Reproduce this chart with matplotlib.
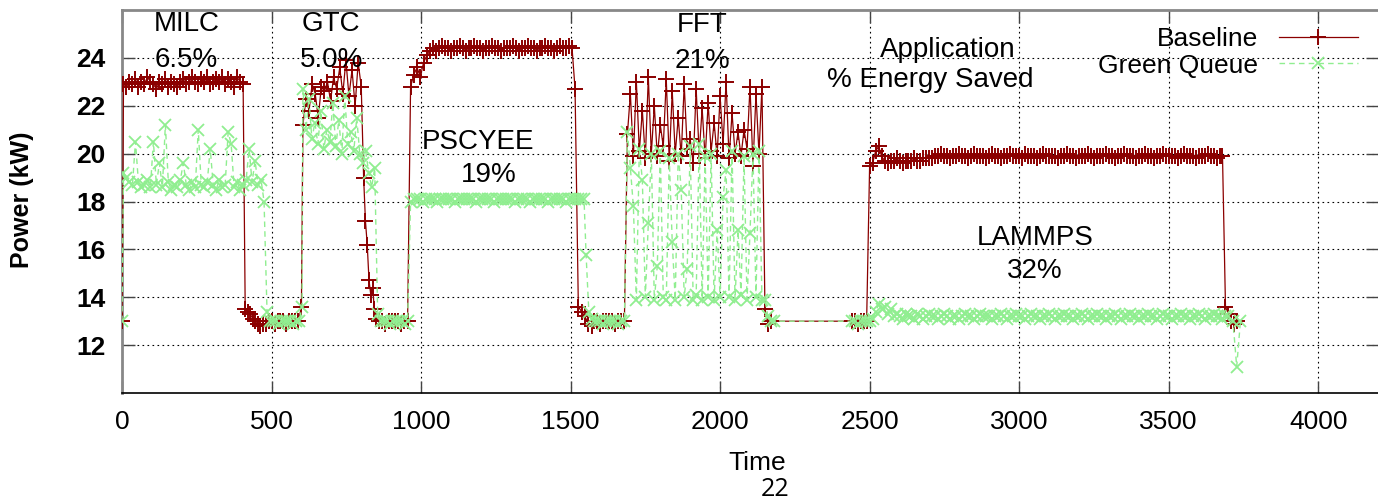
import matplotlib
matplotlib.use('Agg')
import matplotlib.pyplot as plt
import numpy as np

plt.rcParams['font.family'] = ['Liberation Sans', 'DejaVu Sans']

# ---- Baseline power (kW), phases as (start time, end time, samples) ----
b_idle0 = [13.0]
b_milc = [22.9, 22.8, 23.0, 22.9, 23.1, 22.8, 23.0, 22.9, 23.2, 23.0,
          22.9, 22.7, 23.0, 22.9, 23.1, 22.8, 23.0, 22.9, 22.8, 23.0,
          23.1, 22.9, 23.0, 23.2, 23.0, 22.9, 23.1, 23.0, 23.2, 22.9,
          23.0, 23.1, 23.0, 23.2, 22.9, 23.1, 23.0, 22.8, 23.2, 23.0, 22.9]
b_drop1 = [13.5, 13.4, 13.3, 13.1, 13.0, 12.9, 12.8, 12.9, 12.9]
b_idle1 = [13.0, 13.0, 12.9, 13.0, 13.0, 13.0, 12.9, 13.0, 13.0, 13.0, 13.0, 13.6]
b_gtc = [21.2, 22.3, 21.8, 22.9, 22.5, 21.5, 22.8, 22.6, 23.0, 22.2,
         23.2, 22.7, 23.6, 22.5, 23.9, 22.4, 23.5, 22.0, 23.8, 22.8]
b_drop2 = [19.0, 17.2, 16.2, 14.7, 14.1, 14.4, 13.5, 13.1]
b_idle2 = [13.0, 13.0, 12.9, 13.0, 13.0, 13.0, 13.0, 12.9, 13.0, 13.0]
b_psc_ramp = [22.8, 23.3, 23.6, 23.2, 23.8, 24.1, 24.3]
b_pscyee = [24.4, 24.3, 24.4, 24.5, 24.4, 24.4, 24.3, 24.4, 24.4, 24.5,
            24.4, 24.3, 24.4, 24.4, 24.5, 24.4, 24.4, 24.3, 24.4, 24.4,
            24.5, 24.4, 24.4, 24.3, 24.4, 24.4, 24.4, 24.5, 24.4, 24.3,
            24.4, 24.4, 24.5, 24.4, 24.4, 24.3, 24.4, 24.4, 24.5, 24.4,
            24.4, 24.3, 24.4, 24.5, 24.4, 24.4, 24.5, 24.4]
b_drop3 = [22.7, 13.6, 13.4, 13.2, 12.9, 12.8]
b_idle3 = [13.0, 13.0, 12.9, 13.0, 13.0, 13.0, 13.0, 12.9, 13.0, 13.0, 13.0]
b_fft = [20.8, 22.5, 19.9, 23.0, 20.1, 21.8, 19.8, 23.2, 20.0, 22.0,
         19.9, 21.2, 20.3, 23.1, 19.7, 22.6, 20.0, 21.5, 19.9, 22.9,
         20.2, 20.6, 19.6, 22.7, 20.0, 21.9, 19.8, 22.1, 20.1, 21.3,
         19.9, 22.4, 20.4, 23.0, 19.8, 21.7, 20.0, 20.9, 19.9, 21.0,
         20.2, 22.8, 19.5, 22.5, 20.0, 22.8]
b_drop4 = [13.5, 12.9, 13.0]
b_idle4 = [13.0, 13.0, 12.9, 13.0, 13.0, 13.0]
b_lammps = [19.5, 19.6, 20.1, 20.3, 19.9,
            19.7, 19.6, 19.7, 19.7, 19.8, 19.7, 19.6, 19.7, 19.7, 19.7,
            19.8, 19.7, 19.7, 19.8, 19.8, 19.8, 19.8,
            19.9, 19.9, 20.0, 19.9, 19.9, 19.8, 19.9, 19.9, 20.0, 19.9,
            19.9, 19.8, 19.9, 20.0, 19.9, 19.9, 19.9, 19.8, 19.9, 20.0,
            19.9, 19.9, 19.8, 19.9, 19.9, 20.0, 19.9, 19.9, 19.9, 19.8,
            20.0, 19.9, 19.9, 19.9, 19.8, 19.9, 20.0, 19.9, 19.9, 19.9,
            19.9, 19.8, 19.9, 19.9, 20.0, 19.9, 19.9, 19.8, 19.9, 19.9,
            19.9, 20.0, 19.9, 19.8, 19.9, 19.9, 19.9, 20.0, 19.9, 19.9,
            19.8, 19.9, 19.9, 20.0, 19.9, 19.9, 19.9, 19.8, 19.9, 19.9,
            20.0, 19.9, 19.9, 19.8, 19.9, 19.9, 20.0, 19.9, 19.9, 19.9,
            19.9, 19.8, 19.9, 20.0, 19.9, 19.9, 19.9, 19.8, 19.9, 19.9,
            19.9, 20.0, 19.9, 19.9, 19.8, 19.9, 19.9]
b_drop5 = [13.6, 13.3, 13.0, 12.9, 13.0]

baseline = [(0, 0, b_idle0), (5, 405, b_milc), (412, 480, b_drop1),
            (490, 600, b_idle1), (605, 800, b_gtc), (808, 850, b_drop2),
            (860, 955, b_idle2), (965, 1030, b_psc_ramp), (1040, 1505, b_pscyee),
            (1515, 1570, b_drop3), (1580, 1680, b_idle3), (1690, 2140, b_fft),
            (2150, 2170, b_drop4), (2440, 2490, b_idle4), (2500, 3680, b_lammps),
            (3690, 3730, b_drop5)]

# ---- Green Queue power (kW) ----
g_idle0 = [13.0]
g_milc = [19.2, 19.0, 18.8, 18.7, 20.5, 18.8, 18.6, 18.7, 18.9, 18.6,
          20.5, 18.7, 19.6, 18.6, 21.2, 18.8, 18.5, 18.7, 18.6, 18.9,
          19.6, 18.7, 18.5, 18.8, 18.6, 21.0, 18.7, 18.6, 18.8, 20.2,
          18.7, 18.5, 18.9, 18.6, 18.7, 20.9, 20.4, 18.6, 18.8, 18.5,
          18.7, 18.9, 20.2, 18.8, 19.7, 18.7, 18.9]
g_drop1 = [18.0, 13.4]
g_idle1 = [13.0, 13.0, 13.0, 12.9, 13.0, 13.0, 13.0, 13.0, 12.9, 13.0, 13.0, 13.6]
g_gtc = [22.7, 21.0, 22.3, 20.6, 21.3, 20.4, 21.8, 20.2, 21.0, 20.5,
         22.1, 20.3, 21.4, 20.0, 22.4, 20.4, 20.9, 20.1, 21.5, 20.0,
         19.6, 20.1, 19.2, 18.6, 19.4]
g_drop2 = [13.3]
g_idle2 = [13.0, 13.0, 13.0, 12.9, 13.0, 13.0, 13.0, 13.0, 12.9, 13.0]
g_pscyee = [18.0, 18.1, 18.1, 18.1, 18.0, 18.1, 18.1, 18.1, 18.1, 18.0,
            18.1, 18.1, 18.1, 18.1, 18.1, 18.0, 18.1, 18.1, 18.1, 18.1,
            18.1, 18.1, 18.0, 18.1, 18.1, 18.1, 18.1, 18.1, 18.0, 18.1,
            18.1, 18.1, 18.1, 18.1, 18.1, 18.0, 18.1, 18.1, 18.1, 18.1,
            18.0, 18.1, 18.1, 18.1, 18.1, 18.1, 18.0, 18.1, 18.1, 18.1,
            18.1, 18.1, 18.0, 18.1, 18.1, 18.1, 18.1, 18.1, 18.1]
g_drop3 = [15.75, 13.4, 13.1]
g_idle3 = [13.0, 13.0, 13.0, 12.9, 13.0, 13.0, 13.0, 13.0, 12.9, 13.0, 13.0]
g_fft = [20.9, 19.4, 17.8, 13.9, 20.2, 18.9, 14.0, 17.1, 20.0, 13.9,
         15.3, 20.1, 14.0, 13.9, 19.8, 16.3, 13.9, 20.0, 18.5, 14.0,
         15.2, 20.3, 13.9, 14.1, 20.4, 13.9, 19.9, 14.0, 20.0, 13.9,
         16.8, 14.0, 18.2, 19.3, 14.0, 20.1, 13.9, 16.8, 14.1, 19.9,
         13.9, 16.7, 20.0, 14.0, 20.1, 13.9]
g_drop4 = [13.9, 13.2, 13.0, 13.0]
g_idle4 = [13.0, 13.0, 12.9, 13.0, 13.0, 13.0]
g_lammps = [13.0, 13.1, 13.4, 13.7, 13.5, 13.6, 13.3, 13.5, 13.2, 13.3,
            13.2, 13.1, 13.3, 13.2, 13.2, 13.1, 13.3, 13.2, 13.1, 13.2,
            13.3, 13.2, 13.2, 13.1, 13.2, 13.3, 13.2, 13.1, 13.2, 13.2,
            13.1, 13.2, 13.3, 13.2, 13.2, 13.1, 13.2, 13.3, 13.2, 13.2,
            13.2, 13.1, 13.2, 13.2, 13.3, 13.2, 13.1, 13.2, 13.2, 13.3,
            13.2, 13.2, 13.1, 13.2, 13.3, 13.2, 13.2, 13.1, 13.2, 13.2,
            13.3, 13.2, 13.1, 13.2, 13.2, 13.3, 13.2, 13.2, 13.1, 13.2,
            13.2, 13.3, 13.2, 13.1, 13.2, 13.2, 13.3, 13.2, 13.2, 13.1,
            13.2, 13.2, 13.3, 13.2, 13.1, 13.2, 13.2, 13.3, 13.2, 13.2,
            13.1, 13.2, 13.2, 13.3, 13.2, 13.2, 13.1, 13.2, 13.3, 13.2,
            13.2, 13.1, 13.2, 13.2, 13.3, 13.2, 13.2, 13.1, 13.2, 13.2,
            13.3, 13.2, 13.1, 13.2, 13.2, 13.3, 13.2, 13.2, 13.1, 13.2,
            13.2]
g_end = [13.0, 11.1, 13.0]

green = [(0, 0, g_idle0), (5, 465, g_milc), (475, 485, g_drop1),
         (495, 602, g_idle1), (605, 845, g_gtc), (855, 855, g_drop2),
         (865, 955, g_idle2), (965, 1545, g_pscyee), (1552, 1570, g_drop3),
         (1580, 1680, g_idle3), (1690, 2140, g_fft), (2150, 2180, g_drop4),
         (2440, 2490, g_idle4), (2500, 3700, g_lammps), (3715, 3740, g_end)]

# ---- annotation labels: (text, time, power) ----
labels = [("MILC", 217, 25.12), ("6.5%", 214, 23.62),
          ("GTC", 699, 25.12), ("5.0%", 702, 23.62),
          ("PSCYEE", 1191, 20.21), ("19%", 1228, 18.83),
          ("FFT", 1940, 25.08), ("21%", 1940, 23.58),
          ("Application", 2760, 24.04), ("% Energy Saved", 2703, 22.79),
          ("LAMMPS", 3054, 16.17), ("32%", 3051, 14.79)]


def series(phases):
    t = np.concatenate([np.linspace(a, b, len(v)) for a, b, v in phases])
    y = np.concatenate([np.asarray(v, float) for _, _, v in phases])
    return t, y


fig = plt.figure(figsize=(13.78, 5.01), dpi=100)
ax = fig.add_axes([122 / 1378, 108 / 501, 1 - 122 / 1378, 383 / 501])

tb, yb = series(baseline)
tg, yg = series(green)
ax.plot(tb, yb, color='#8b0000', lw=0.9, marker='+', ms=12, mew=1.4,
        label='Baseline', zorder=3)
ax.plot(tg, yg, color='#90ee90', lw=1.0, ls=(0, (4, 3)), marker='x', ms=9,
        mew=1.3, label='Green Queue', zorder=4)

ax.set_xlim(0, 4200)
ax.set_ylim(10, 26)
ax.set_xticks(np.arange(0, 4001, 500))
ax.set_yticks(np.arange(12, 25, 2))
ax.tick_params(direction='in', length=9, width=1, top=True, right=True,
               color='#444444')
ax.tick_params(axis='x', labelsize=19, pad=12)
ax.tick_params(axis='y', labelsize=19, pad=12)
for lab in ax.get_yticklabels():
    lab.set_fontweight('bold')
ax.grid(True, color='black', ls=(0, (1.5, 3)), lw=0.8)
ax.set_axisbelow(True)

ax.spines['left'].set_color('#888888')
ax.spines['left'].set_linewidth(2)
ax.spines['top'].set_color('#888888')
ax.spines['top'].set_linewidth(2)
ax.spines['bottom'].set_color('black')
ax.spines['bottom'].set_linewidth(1.2)
ax.spines['right'].set_visible(False)

for txt, tx, ty in labels:
    ax.text(tx, ty, txt, ha='center', va='baseline', fontsize=20, zorder=6)

leg = ax.legend(loc='upper right', bbox_to_anchor=(1358 / 1378, 1 - 27 / 501),
                bbox_transform=fig.transFigure, frameon=False, markerfirst=False,
                fontsize=19, handlelength=3.0, handletextpad=0.8,
                labelspacing=0.1, borderpad=0, borderaxespad=0)
for t in leg.get_texts():
    t.set_ha('right')

fig.text(22 / 1378, 1 - 200 / 501, 'Power (kW)', rotation=90, ha='center',
         va='center', fontsize=18, fontweight='bold')
fig.text(757 / 1378, 1 - 463 / 501, 'Time', ha='center', va='center', fontsize=19)
fig.text(775 / 1378, 1 - 490 / 501, '22', ha='center', va='center', fontsize=18,
         family=['Open Sans', 'DejaVu Sans'])

fig.savefig('out.png', dpi=100)
